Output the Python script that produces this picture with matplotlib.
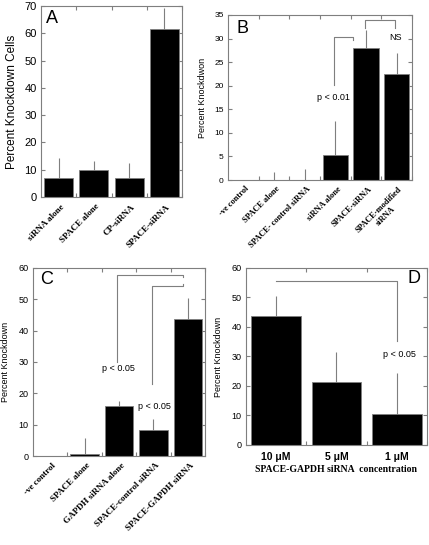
import numpy as np
import matplotlib
matplotlib.use("Agg")
import matplotlib.pyplot as plt

# Panel A
a_labels = ["siRNA alone", "SPACE alone", "CP-siRNA", "SPACE-siRNA"]
a_vals = [7.0, 10.0, 7.0, 61.7]
a_err = [7.3, 3.3, 5.6, 7.7]

# Panel B
b_labels = ["-ve control", "SPACE alone", "SPACE- control siRNA", "siRNA alone",
            "SPACE-siRNA", "SPACE-modified\nsiRNA"]
b_vals = [0.0, 0.0, 0.0, 5.4, 28.1, 22.4]
b_err = [0.0, 1.7, 2.3, 7.2, 3.8, 4.6]

# Panel C
c_labels = ["-ve control", "SPACE alone", "GAPDH siRNA alone", "SPACE-control siRNA",
            "SPACE-GAPDH siRNA"]
c_vals = [0.0, 0.7, 16.1, 8.4, 43.8]
c_err = [0.0, 5.0, 1.4, 3.3, 6.7]

# Panel D
d_labels = ["10 \u03bcM", "5 \u03bcM", "1 \u03bcM"]
d_vals = [43.8, 21.5, 10.5]
d_err = [6.7, 10.0, 13.9]

GRAY = "#7f7f7f"
SANS = "Liberation Sans"
SERIF = "Liberation Serif"

fig = plt.figure(figsize=(4.29, 5.45), dpi=100)


def panel(rect, vals, err, ymax, ystep, tick_fs):
    ax = fig.add_axes(rect)
    x = np.arange(len(vals))
    ax.bar(x, vals, width=0.82, color="black", edgecolor=GRAY, linewidth=0.6, zorder=2)
    ax.errorbar(x, vals, yerr=[np.zeros(len(err)), err], fmt="none", ecolor=GRAY,
                elinewidth=0.8, capsize=0, zorder=1)
    ax.set_xlim(-0.5, len(vals) - 0.5)
    ax.set_ylim(0, ymax)
    ax.set_yticks(np.arange(0, ymax + 0.1, ystep))
    for sp in ax.spines.values():
        sp.set_color(GRAY)
        sp.set_linewidth(0.8)
    ax.tick_params(axis="y", direction="in", length=3, color=GRAY, right=True,
                   labelsize=tick_fs, pad=3)
    ax.tick_params(axis="x", which="both", direction="in", length=3, color=GRAY, top=True)
    for t in ax.get_yticklabels():
        t.set_family(SANS)
    return ax, x


def cat_labels(ax, x, labels, fs):
    ax.set_xticks(x + 0.5, minor=False)
    ax.set_xticklabels([])
    ax.set_xlim(-0.5, len(x) - 0.5)
    for xi, lab in zip(x, labels):
        ax.text(xi + 0.05, -0.03, lab, transform=ax.get_xaxis_transform(), rotation=45,
                ha="right", va="top", rotation_mode="anchor", fontsize=fs,
                fontweight="bold", family=SERIF, multialignment="center")


# A
axA, xA = panel([0.0956, 0.6385, 0.3287, 0.3505], a_vals, a_err, 70, 10, 8)
cat_labels(axA, xA, a_labels, 6.5)
axA.set_ylabel("Percent Knockdown Cells", fontsize=8.5, family=SANS, labelpad=5)
axA.text(0.08, 0.935, "A", transform=axA.transAxes, fontsize=13, family=SANS,
         ha="center", va="center")

# B
axB, xB = panel([0.5315, 0.6697, 0.4289, 0.3028], b_vals, b_err, 35, 5, 6)
cat_labels(axB, xB, b_labels, 6)
axB.set_ylabel("Percent Knockdwon", fontsize=6.5, family=SANS, labelpad=5)
axB.text(0.08, 0.92, "B", transform=axB.transAxes, fontsize=13, family=SANS,
         ha="center", va="center")
axB.plot([2.95, 2.95, 3.58, 3.58], [20.2, 30.4, 30.4, 29.6], color=GRAY, lw=0.8)
axB.plot([3.96, 3.96, 4.94, 4.94], [32.2, 33.9, 33.9, 32.2], color=GRAY, lw=0.8)
axB.text(2.95, 17.5, "p < 0.01", fontsize=6.5, family=SANS, ha="center", va="center")
axB.text(4.95, 30.3, "NS", fontsize=6.5, family=SANS, ha="center", va="center")

# C
axC, xC = panel([0.0769, 0.1633, 0.401, 0.345], c_vals, c_err, 60, 10, 6.5)
cat_labels(axC, xC, c_labels, 6.5)
axC.set_ylabel("Percent Knockdown", fontsize=6.5, family=SANS, labelpad=6)
axC.text(0.08, 0.94, "C", transform=axC.transAxes, fontsize=13, family=SANS,
         ha="center", va="center")
axC.plot([1.95, 1.95, 3.87, 3.87], [30, 57.7, 57.7, 57.0], color=GRAY, lw=0.8)
axC.plot([2.96, 2.96, 3.87, 3.87], [23, 54.1, 54.1, 54.8], color=GRAY, lw=0.8)
axC.text(1.97, 27.8, "p < 0.05", fontsize=6.5, family=SANS, ha="center", va="center")
axC.text(3.02, 15.9, "p < 0.05", fontsize=6.5, family=SANS, ha="center", va="center")

# D
axD, xD = panel([0.5734, 0.1835, 0.4219, 0.3248], d_vals, d_err, 60, 10, 6.5)
axD.set_xticks(xD + 0.5)
axD.set_xticklabels([])
axD.set_xlim(-0.5, 2.5)
for xi, lab in zip(xD, d_labels):
    axD.text(xi, -0.04, lab, transform=axD.get_xaxis_transform(), ha="center", va="top",
             fontsize=7.5, fontweight="bold", family=SANS)
axD.text(0.5, -0.115, "SPACE-GAPDH siRNA  concentration", transform=axD.transAxes,
         ha="center", va="top", fontsize=7, fontweight="bold", family=SERIF)
axD.set_ylabel("Percent Knockdown", fontsize=6.5, family=SANS, labelpad=6)
axD.text(0.93, 0.94, "D", transform=axD.transAxes, fontsize=13, family=SANS,
         ha="center", va="center")
axD.plot([0, 2, 2], [55.5, 55.5, 35.2], color=GRAY, lw=0.8)
axD.text(2.05, 30.7, "p < 0.05", fontsize=6.5, family=SANS, ha="center", va="center")

fig.savefig("out.png", dpi=100)
